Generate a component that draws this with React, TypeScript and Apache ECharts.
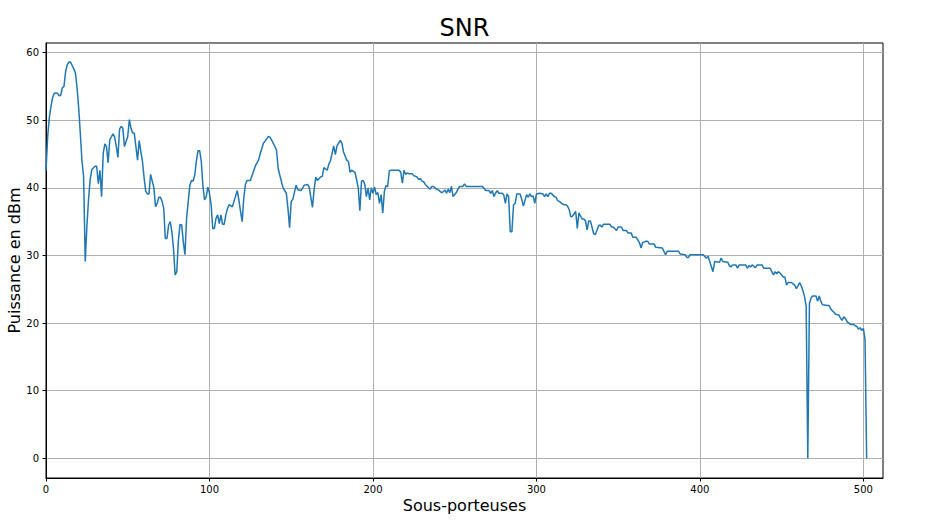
import React, { useEffect, useRef } from "react";
import * as echarts from "echarts";

const TITLE = "SNR";
const X_LABEL = "Sous-porteuses";
const Y_LABEL = "Puissance en dBm";
const xTicks = [0, 100, 200, 300, 400, 500];
const yTicks = [0, 10, 20, 30, 40, 50, 60];

// [sous-porteuse, SNR en dB]
const snrPart1: [number, number][] = [
  [0, 42.5], [1, 47.5], [2, 50.3], [3, 52], [4, 53.3], [5, 54], [7, 54], [8, 53.6], [9, 53.7], [10, 54.8],
  [11, 55], [12, 57.2], [13, 58.2], [14, 58.6], [15, 58.6], [16, 58.1], [17, 57.6], [18, 57], [19, 54.8], [20, 51.8],
  [21, 48], [22, 44], [23, 41.7], [24, 29.1], [25, 34.3], [26, 38.2], [27, 41.2], [28, 42.7], [30, 43.2], [31, 43.2],
  [32, 40.6], [33, 42.6], [34, 38.7], [35, 45.1], [36, 46.5], [37, 46.1], [38, 43.7], [39, 47.1], [41, 48], [42, 47.5],
  [43, 46.1], [44, 44.5], [45, 48.7], [46, 49.1], [47, 48.8], [48, 46.1], [50, 47.6], [51, 50.1], [52, 48.8], [53, 48.1],
  [54, 48.1], [56, 44.1], [57, 47], [58, 45.4], [59, 43.9], [60, 41.5], [61, 39.5], [62, 39.1], [63, 39.1], [64, 42],
  [65, 41], [66, 40], [67, 37.2], [68, 37.7], [69, 38.6], [70, 38.6], [71, 38], [72, 37], [73, 32.5], [74, 32.5],
  [75, 34.5], [76, 35], [77, 33.5], [78, 31], [79, 27.1], [80, 27.6], [81, 32.3], [82, 34.6], [83, 34.5], [84, 32],
  [85, 30.1], [86, 35.5], [87, 38], [88, 40.4], [89, 41.1], [90, 41], [91, 41.9], [92, 44], [93, 45.5], [94, 45.5],
  [95, 43.9], [96, 40.2], [97, 38.2], [98, 38.7], [99, 40.1],
];

const snrPart2: [number, number][] = [
  [100, 39.2], [101, 37.5], [102, 34], [103, 34], [104, 35.5], [105, 36], [106, 34.7], [107, 36], [108, 34.6], [109, 34.6],
  [110, 36], [111, 36.9], [112, 37.5], [114, 37.2], [115, 38], [117, 39.6], [118, 38.2], [119, 36.5], [120, 35], [121, 38.5],
  [122, 40.5], [123, 41.1], [125, 41.1], [126, 41.8], [127, 42.5], [128, 43.2], [130, 44.1], [131, 45], [133, 46.6], [134, 46.9],
  [136, 47.6], [137, 47.5], [139, 46.6], [141, 45.6], [142, 42.9], [143, 41.9], [145, 40], [147, 39.2], [148, 37], [149, 34.1],
  [150, 38], [151, 38.3], [153, 40.4], [154, 39.7], [156, 39.6], [158, 40.4], [160, 40.5], [161, 40.1], [163, 37.1], [164, 39.7],
  [165, 41.6], [166, 41.1], [168, 41.6], [169, 41.7], [170, 43], [172, 42.6], [173, 43.5], [174, 44], [176, 46.2], [177, 44.9],
  [178, 46.2], [180, 47], [181, 46.6], [182, 45.3], [184, 44.1], [185, 43.9], [186, 42.3], [187, 42.6], [189, 42.3], [190, 41.2],
  [191, 40], [192, 36.6], [193, 41], [194, 41.1], [195, 40.5], [196, 38.7], [197, 40], [198, 38.2], [199, 40],
];

const snrPart3: [number, number][] = [
  [200, 39.2], [201, 40.1], [202, 39], [203, 39.3], [204, 37.7], [205, 39], [206, 36.3], [207, 39.5], [208, 40.3], [209, 40.2],
  [210, 42.5], [211, 42.6], [216, 42.6], [217, 42.3], [218, 40.7], [219, 42.6], [220, 42], [221, 42.2], [222, 42.1], [224, 42.1],
  [225, 41.8], [227, 41.6], [228, 41.2], [229, 41.4], [230, 41], [231, 40.9], [232, 40.5], [234, 40], [235, 39.8], [236, 40.2],
  [237, 40.2], [239, 39.8], [240, 39.7], [242, 39.3], [243, 39.4], [244, 39.7], [245, 39.2], [246, 39.8], [247, 39.3], [248, 40.2],
  [249, 38.7], [251, 39.3], [252, 39.8], [253, 40.2], [255, 40.2], [256, 40.6], [257, 40.2], [267, 40.2], [269, 39.6], [271, 39.6],
  [272, 39.2], [273, 39.6], [274, 38.7], [275, 39.2], [276, 39.6], [277, 39.2], [279, 39.2], [280, 39], [281, 37.7], [282, 39.1],
  [283, 38.7], [284, 33.5], [285, 33.5], [286, 37.5], [287, 37.7], [288, 39.1], [290, 39.1], [291, 38.3], [292, 37.3], [294, 39],
  [295, 38.6], [296, 39.1], [297, 38.7], [298, 38.8], [299, 37.7],
];

const snrPart4: [number, number][] = [
  [300, 39.1], [302, 39.2], [304, 39.1], [305, 38.7], [306, 39.1], [307, 38.7], [308, 39.2], [309, 39.2], [311, 38.7], [312, 38.6],
  [313, 38.1], [314, 38], [316, 37.6], [317, 37.5], [318, 37.5], [319, 37.3], [320, 36.8], [321, 35.7], [322, 35.8], [324, 36.5],
  [325, 34], [326, 36.3], [327, 35.8], [328, 35.4], [329, 35.4], [330, 35.1], [331, 33.8], [332, 35.1], [333, 35.1], [334, 34.2],
  [335, 33.2], [336, 33.1], [337, 33.7], [338, 34.4], [339, 34.5], [340, 34.2], [341, 34.6], [345, 34.6], [346, 34.2], [347, 34.2],
  [349, 33.7], [350, 34.2], [352, 34.2], [353, 33.7], [355, 33.7], [356, 33.3], [358, 33.3], [359, 32.7], [361, 32.7], [362, 32.3],
  [363, 31.9], [364, 31.1], [365, 31.9], [367, 32.1], [368, 32.1], [369, 31.7], [372, 31.7], [373, 31.2], [377, 31.1], [378, 30.6],
  [379, 30.1], [380, 30.6], [387, 30.6], [388, 30.2], [391, 30.1], [392, 29.7], [393, 29.7], [394, 30.1],
];

const snrPart5: [number, number][] = [
  [402, 30.1], [404, 29.6], [405, 29.9], [406, 29.1], [408, 27.6], [409, 29.1], [412, 29], [413, 29.6], [414, 29.1], [417, 29],
  [418, 28.5], [419, 28.3], [420, 28.6], [422, 28.6], [423, 28.1], [424, 28.6], [428, 28.6], [429, 28.1], [430, 28.5], [431, 28.3],
  [432, 28.6], [434, 28.2], [435, 28.6], [438, 28.6], [439, 28.1], [443, 28.1], [444, 27.6], [445, 27.1], [446, 27.6], [447, 27.3],
  [448, 27.6], [449, 27.4], [450, 27.1], [451, 26.8], [452, 26.8], [453, 25.6], [454, 26], [456, 26], [457, 25.8], [458, 25.6],
  [459, 25.1], [460, 25.5], [461, 26], [462, 25.5], [463, 24.8], [464, 23.9], [465, 22.5], [466, 0], [467, 22.9], [468, 23.7],
  [469, 24], [471, 24], [472, 23.2], [473, 24], [474, 23.2], [475, 22.7], [478, 22.6], [479, 22.6], [480, 22.1], [481, 21.8],
  [482, 21.6], [483, 21.3], [485, 21.2], [486, 20.7], [487, 20.4], [488, 20.9], [489, 20.7], [490, 20.2], [492, 19.8], [494, 19.8],
  [495, 19.6], [496, 19.5], [497, 19.1], [498, 19.3], [499, 18.9], [500, 19.2], [501, 17.6], [502, 0],
];

const FONT = "DejaVu Sans";

export default function App() {
  const ref = useRef<HTMLDivElement>(null);
  useEffect(() => {
    if (!ref.current) return;
    const chart = echarts.init(ref.current, null, { renderer: "svg" });
    const data = [...snrPart1, ...snrPart2, ...snrPart3, ...snrPart4, ...snrPart5];
    const gridLeft = 46;
    const gridRight = 49;
    const gridTop = 43;
    const gridBottom = 48;
    const W = 932;
    const H = 526;
    const cx = (gridLeft + (W - gridRight)) / 2;
    const cy = (gridTop + (H - gridBottom)) / 2;
    chart.setOption({
      animation: false,
      textStyle: { fontFamily: FONT },
      grid: {
        left: gridLeft,
        right: gridRight,
        top: gridTop,
        bottom: gridBottom,
        show: true,
        borderColor: "#000",
        borderWidth: 1,
        containLabel: false,
        outerBoundsMode: "none",
      },
      xAxis: {
        type: "value",
        min: 0,
        max: 512,
        interval: 100,
        axisLine: { show: true, onZero: false, lineStyle: { color: "#000", width: 1 } },
        axisTick: { show: true, inside: false, length: 3.5, lineStyle: { color: "#000", width: 1 }, customValues: xTicks },
        axisLabel: { color: "#000", fontSize: 10, margin: 6, fontFamily: FONT, customValues: xTicks },
        splitLine: { show: true, lineStyle: { color: "#b0b0b0", width: 1 } },
      },
      yAxis: {
        type: "value",
        min: -2.925,
        max: 61.425,
        minInterval: 10,
        maxInterval: 10,
        axisLine: { show: true, onZero: false, lineStyle: { color: "#000", width: 1 } },
        axisTick: { show: true, inside: false, length: 3.5, lineStyle: { color: "#000", width: 1 }, customValues: yTicks },
        axisLabel: { color: "#000", fontSize: 10, margin: 7, fontFamily: FONT, customValues: yTicks },
        splitLine: { show: true, lineStyle: { color: "#b0b0b0", width: 1 } },
      },
      graphic: [
        {
          type: "text",
          x: cx,
          y: 28,
          style: { text: TITLE, fontSize: 24, fontFamily: FONT, fill: "#000", align: "center", verticalAlign: "middle" },
        },
        {
          type: "text",
          x: cx,
          y: 505,
          style: { text: X_LABEL, fontSize: 16, fontFamily: FONT, fill: "#000", align: "center", verticalAlign: "middle" },
        },
        {
          type: "text",
          x: 14,
          y: cy,
          rotation: Math.PI / 2,
          style: { text: Y_LABEL, fontSize: 16, fontFamily: FONT, fill: "#000", align: "center", verticalAlign: "middle" },
        },
      ],
      series: [
        {
          type: "line",
          data,
          showSymbol: false,
          symbol: "none",
          silent: true,
          lineStyle: { color: "#1f77b4", width: 1.5 },
          itemStyle: { color: "#1f77b4" },
        },
      ],
    });
    return () => chart.dispose();
  }, []);
  return <div ref={ref} style={{ position: "absolute", left: 0, top: 0, width: 932, height: 526 }} />;
}
